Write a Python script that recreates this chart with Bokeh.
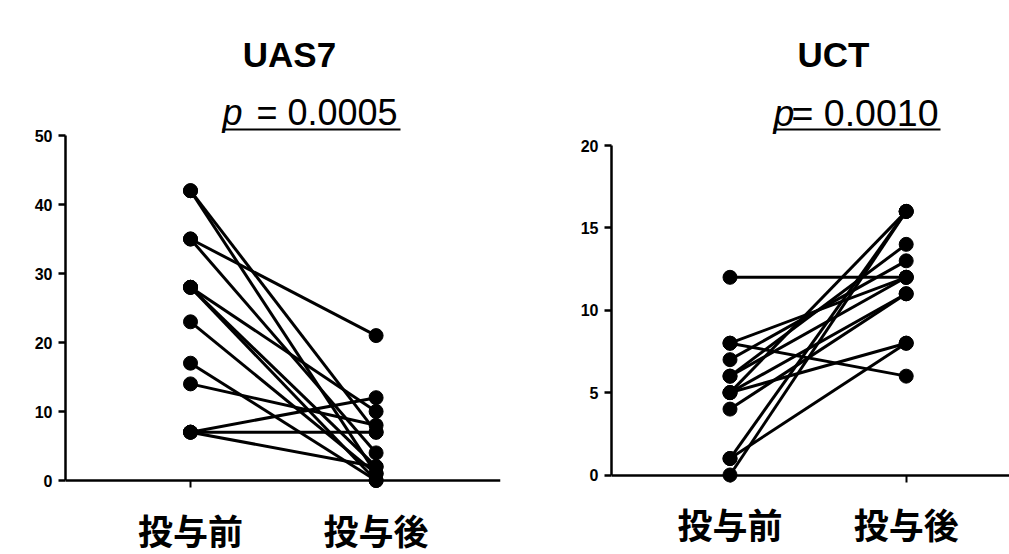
from bokeh.plotting import figure
from bokeh.models import Range1d, FixedTicker, Label, ColumnDataSource
from bokeh.layouts import row
from bokeh.embed import file_html
from bokeh.resources import INLINE

# ---------------- data ----------------
categories = ["投与前", "投与後"]

uas7_title = "UAS7"
uas7_p = "= 0.0005"
uas7_pre = [42, 42, 35, 35, 28, 28, 28, 23, 17, 14, 7, 7, 7]
uas7_post = [7, 1, 21, 4, 10, 2, 0, 1, 0, 8, 12, 7, 2]
uas7_ticks = [0, 10, 20, 30, 40, 50]

uct_title = "UCT"
uct_p = "= 0.0010"
uct_pre = [12, 8, 8, 7, 6, 6, 5, 5, 5, 4, 1, 1, 0]
uct_post = [12, 6, 12, 13, 14, 12, 16, 11, 8, 11, 16, 8, 16]
uct_ticks = [0, 5, 10, 15, 20]

FIG_H = 554
PAGE_TOP = 0


def make_panel(width, fig_left_page, frame_left_page, frame_right_page,
               pre_page_x, post_page_x, zero_page_y, top_page_y, ymax,
               pre, post, ticks, title, title_x, ptext, p_x, eq_x, ul_x1, p_size):
    frame_bottom_page = PAGE_TOP + FIG_H
    ux = post_page_x - pre_page_x
    uy = (zero_page_y - top_page_y) / ymax
    xs = -(pre_page_x - frame_left_page) / ux
    xe = 1 + (frame_right_page - post_page_x) / ux
    ys = -(frame_bottom_page - zero_page_y) / uy
    ye = (zero_page_y - PAGE_TOP) / uy

    def dx(px):
        return (px - pre_page_x) / ux

    def dy(py):
        return (zero_page_y - py) / uy

    p = figure(width=width, height=FIG_H, output_backend="svg", toolbar_location=None,
               x_range=Range1d(xs, xe), y_range=Range1d(ys, ye),
               min_border_left=frame_left_page - fig_left_page,
               min_border_right=fig_left_page + width - frame_right_page,
               min_border_top=0, min_border_bottom=0)
    p.outline_line_color = None
    p.grid.visible = False
    p.background_fill_color = "white"
    p.border_fill_color = "white"

    # y axis
    ya = p.yaxis[0]
    ya.bounds = (0, ymax)
    ya.ticker = FixedTicker(ticks=ticks)
    ya.axis_line_width = 2.5
    ya.axis_line_color = "black"
    ya.major_tick_line_width = 2.5
    ya.major_tick_line_color = "black"
    ya.major_tick_out = 7
    ya.major_tick_in = 0
    ya.minor_tick_line_color = None
    ya.major_label_text_font = "Liberation Sans"
    ya.major_label_text_font_style = "bold"
    ya.major_label_text_font_size = "16px"
    ya.major_label_text_color = "black"
    ya.major_label_standoff = 6

    # x axis (categories) fixed at y = 0
    xa = p.xaxis[0]
    xa.fixed_location = 0
    xa.ticker = FixedTicker(ticks=[0, 1])
    xa.major_label_overrides = {0: categories[0], 1: categories[1]}
    xa.axis_line_width = 2.5
    xa.axis_line_color = "black"
    xa.major_tick_line_width = 2
    xa.major_tick_line_color = "black"
    xa.major_tick_out = 7
    xa.major_tick_in = 0
    xa.minor_tick_line_color = None
    xa.major_label_text_font = "Noto Sans CJK JP"
    xa.major_label_text_font_style = "bold"
    xa.major_label_text_font_size = "35px"
    xa.major_label_text_color = "black"
    xa.major_label_standoff = 16

    src = ColumnDataSource(dict(x0=[0] * len(pre), y0=pre, x1=[1] * len(post), y1=post))
    p.segment(x0="x0", y0="y0", x1="x1", y1="y1", source=src,
              line_color="black", line_width=3)
    p.scatter(x=[0] * len(pre), y=pre, size=14, color="black")
    p.scatter(x=[1] * len(post), y=post, size=14, color="black")

    # titles
    p.add_layout(Label(x=dx(title_x), y=dy(54), text=title, text_align="center",
                       text_baseline="middle", text_font="Liberation Sans",
                       text_font_style="bold", text_font_size="35px", text_color="black"))
    p.add_layout(Label(x=dx(p_x), y=dy(112), text="p", text_align="left",
                       text_baseline="middle", text_font="Liberation Sans",
                       text_font_style="italic", text_font_size=p_size, text_color="black"))
    p.add_layout(Label(x=dx(eq_x), y=dy(112), text=ptext, text_align="left",
                       text_baseline="middle", text_font="Liberation Sans",
                       text_font_size=p_size, text_color="black"))
    p.segment(x0=[dx(p_x)], y0=[dy(129)], x1=[dx(ul_x1)], y1=[dy(129)],
              line_color="black", line_width=1.8)
    return p


left = make_panel(548, 0, 65, 500, 190, 375.6, 480, 135, 50,
                  uas7_pre, uas7_post, uas7_ticks, uas7_title, 289, uas7_p, 222, 256, 400, "36px")
right = make_panel(461, 548, 611, 1009, 729.5, 905.7, 474.5, 145, 20,
                   uct_pre, uct_post, uct_ticks, uct_title, 833, uct_p, 773, 791, 940, "37.5px")

layout = row(left, right)
open("out.html", "w").write(file_html(layout, INLINE))
